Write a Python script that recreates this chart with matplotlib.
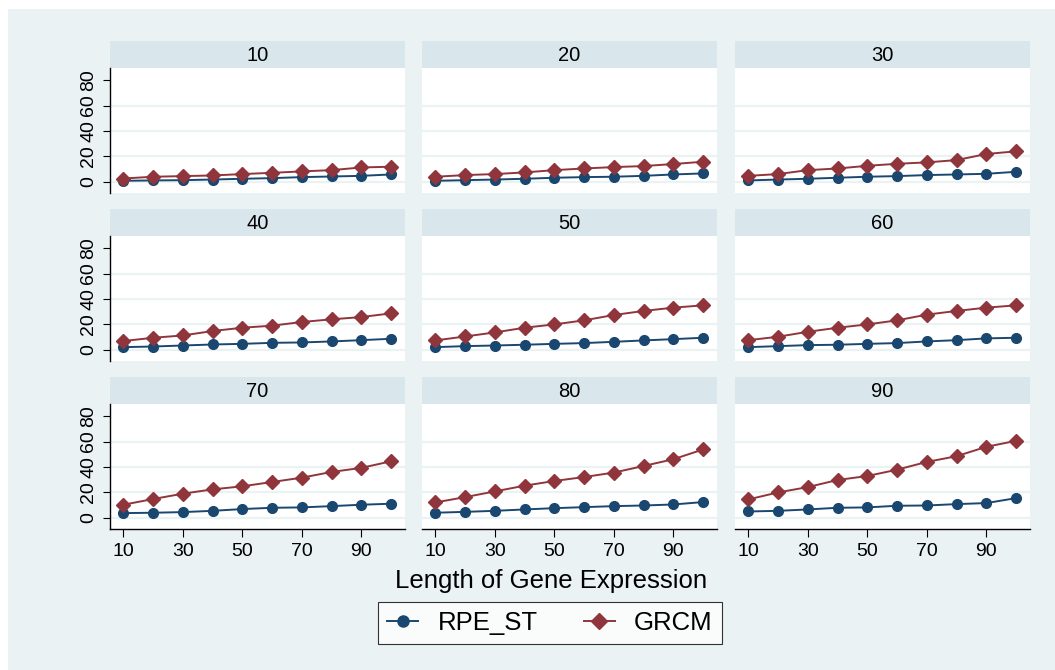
import numpy as np
import matplotlib
matplotlib.use("Agg")
import matplotlib.pyplot as plt
from matplotlib.patches import Rectangle
from matplotlib.lines import Line2D

plt.rcParams["font.family"] = ["Liberation Sans", "DejaVu Sans"]

# Data
lengths = [10, 20, 30, 40, 50, 60, 70, 80, 90, 100]
panels = [10, 20, 30, 40, 50, 60, 70, 80, 90]

rpe_st = {
    10: [0.8, 1.1, 1.3, 1.8, 2.4, 2.9, 3.7, 4.2, 4.7, 5.8],
    20: [0.8, 1.3, 1.8, 2.4, 3.2, 3.7, 4.0, 4.7, 5.8, 6.6],
    30: [1.1, 1.8, 2.4, 3.2, 4.0, 4.5, 5.3, 5.8, 6.3, 7.9],
    40: [2.1, 2.6, 3.4, 4.2, 4.7, 5.5, 5.8, 6.6, 7.6, 8.7],
    50: [2.1, 2.9, 3.4, 4.0, 4.7, 5.3, 6.3, 7.4, 8.4, 9.5],
    60: [2.1, 2.9, 3.7, 4.0, 4.7, 5.3, 6.6, 7.6, 9.0, 9.5],
    70: [3.7, 4.0, 4.5, 5.5, 6.9, 7.9, 8.2, 9.2, 10.3, 11.1],
    80: [4.0, 4.7, 5.5, 6.6, 7.6, 8.4, 9.2, 9.7, 10.5, 12.4],
    90: [5.0, 5.5, 6.6, 7.9, 8.2, 9.5, 9.7, 10.8, 11.6, 15.5],
}
grcm = {
    10: [2.6, 4.0, 4.5, 5.0, 6.1, 7.1, 8.2, 9.2, 11.3, 11.9],
    20: [4.0, 5.3, 6.1, 7.4, 9.2, 10.5, 11.6, 12.4, 14.0, 15.8],
    30: [4.7, 6.1, 9.2, 10.5, 12.6, 14.2, 15.3, 17.1, 21.9, 24.0],
    40: [6.9, 9.5, 11.3, 14.8, 17.4, 19.0, 21.9, 24.0, 25.8, 28.7],
    50: [7.4, 10.5, 13.7, 17.4, 20.0, 23.2, 27.4, 30.6, 33.2, 35.0],
    60: [7.6, 10.3, 14.2, 17.4, 20.0, 23.2, 27.7, 30.6, 33.2, 35.0],
    70: [10.3, 14.8, 19.0, 22.4, 24.8, 28.2, 31.6, 36.1, 39.3, 44.5],
    80: [12.1, 16.3, 20.8, 25.3, 29.0, 32.1, 35.6, 40.8, 46.1, 53.8],
    90: [14.5, 20.0, 24.2, 29.8, 32.9, 37.9, 44.0, 48.5, 55.9, 60.6],
}
y_ticks = [0, 20, 40, 60, 80]
x_ticks = [10, 30, 50, 70, 90]

blue = "#1a476f"
red = "#90353b"
bg = "#eaf2f3"
strip_col = "#d9e6eb"

W, H = 1055, 670
fig = plt.figure(figsize=(W / 100, H / 100), dpi=100, facecolor="white")
fig.patches.append(Rectangle((8 / W, 0), 1, 1 - 9 / H, transform=fig.transFigure,
                             facecolor=bg, edgecolor="none", zorder=-10))

col_left = [110, 422, 735]
row_top = [41, 209, 377]
pw, sh, ph = 295, 27, 125

for i, p in enumerate(panels):
    r, c = divmod(i, 3)
    x0 = col_left[c]
    top = row_top[r]
    # strip with the panel title
    sax = fig.add_axes([x0 / W, 1 - (top + sh) / H, pw / W, sh / H])
    sax.set_facecolor(strip_col)
    sax.set_xticks([])
    sax.set_yticks([])
    for s in sax.spines.values():
        s.set_visible(False)
    sax.text(0.5, 0.45, str(p), ha="center", va="center", fontsize=14.5,
             transform=sax.transAxes)

    ax = fig.add_axes([x0 / W, 1 - (top + sh + ph) / H, pw / W, ph / H])
    ax.set_facecolor("white")
    for yv in y_ticks[:-1]:
        ax.axhline(yv, color=bg, lw=1.6, zorder=0)
    ax.plot(lengths, rpe_st[p], color=blue, lw=1.4, marker="o", ms=7,
            zorder=3)
    ax.plot(lengths, grcm[p], color=red, lw=1.4, marker="D", ms=7,
            zorder=4)
    ax.set_xlim(5.5, 104.7)
    ax.set_ylim(-8.8, 89.6)
    for s in ["top", "right"]:
        ax.spines[s].set_visible(False)

    if c == 0:
        ax.set_yticks(y_ticks)
        ax.set_yticklabels([str(v) for v in y_ticks], rotation=90,
                           va="center", fontsize=14)
        ax.tick_params(axis="y", length=5, width=0.8, pad=4)
        ax.spines["left"].set_linewidth(1)
    else:
        ax.set_yticks([])
        ax.spines["left"].set_visible(False)

    if r == 2:
        ax.set_xticks(x_ticks)
        ax.set_xticklabels([str(v) for v in x_ticks], fontsize=14)
        ax.tick_params(axis="x", length=6, width=0.8, pad=4)
        ax.spines["bottom"].set_linewidth(1)
    else:
        ax.set_xticks([])
        ax.spines["bottom"].set_visible(False)

fig.text(551 / W, 1 - 581 / H, "Length of Gene Expression", ha="center",
         va="center", fontsize=18.5)

handles = [
    Line2D([], [], color=blue, lw=1.4, marker="o", ms=8),
    Line2D([], [], color=red, lw=1.4, marker="D", ms=8),
]
leg = fig.legend(handles, ["RPE_ST", "GRCM"], loc="center",
                 bbox_to_anchor=(550 / W, 1 - 623 / H), ncol=2, fontsize=18.5,
                 frameon=True, fancybox=False, edgecolor="black",
                 handlelength=1.2, handletextpad=0.75, columnspacing=1.8,
                 borderpad=0.35)
leg.get_frame().set_linewidth(0.8)

fig.savefig("out.png", dpi=100, facecolor=fig.get_facecolor())
